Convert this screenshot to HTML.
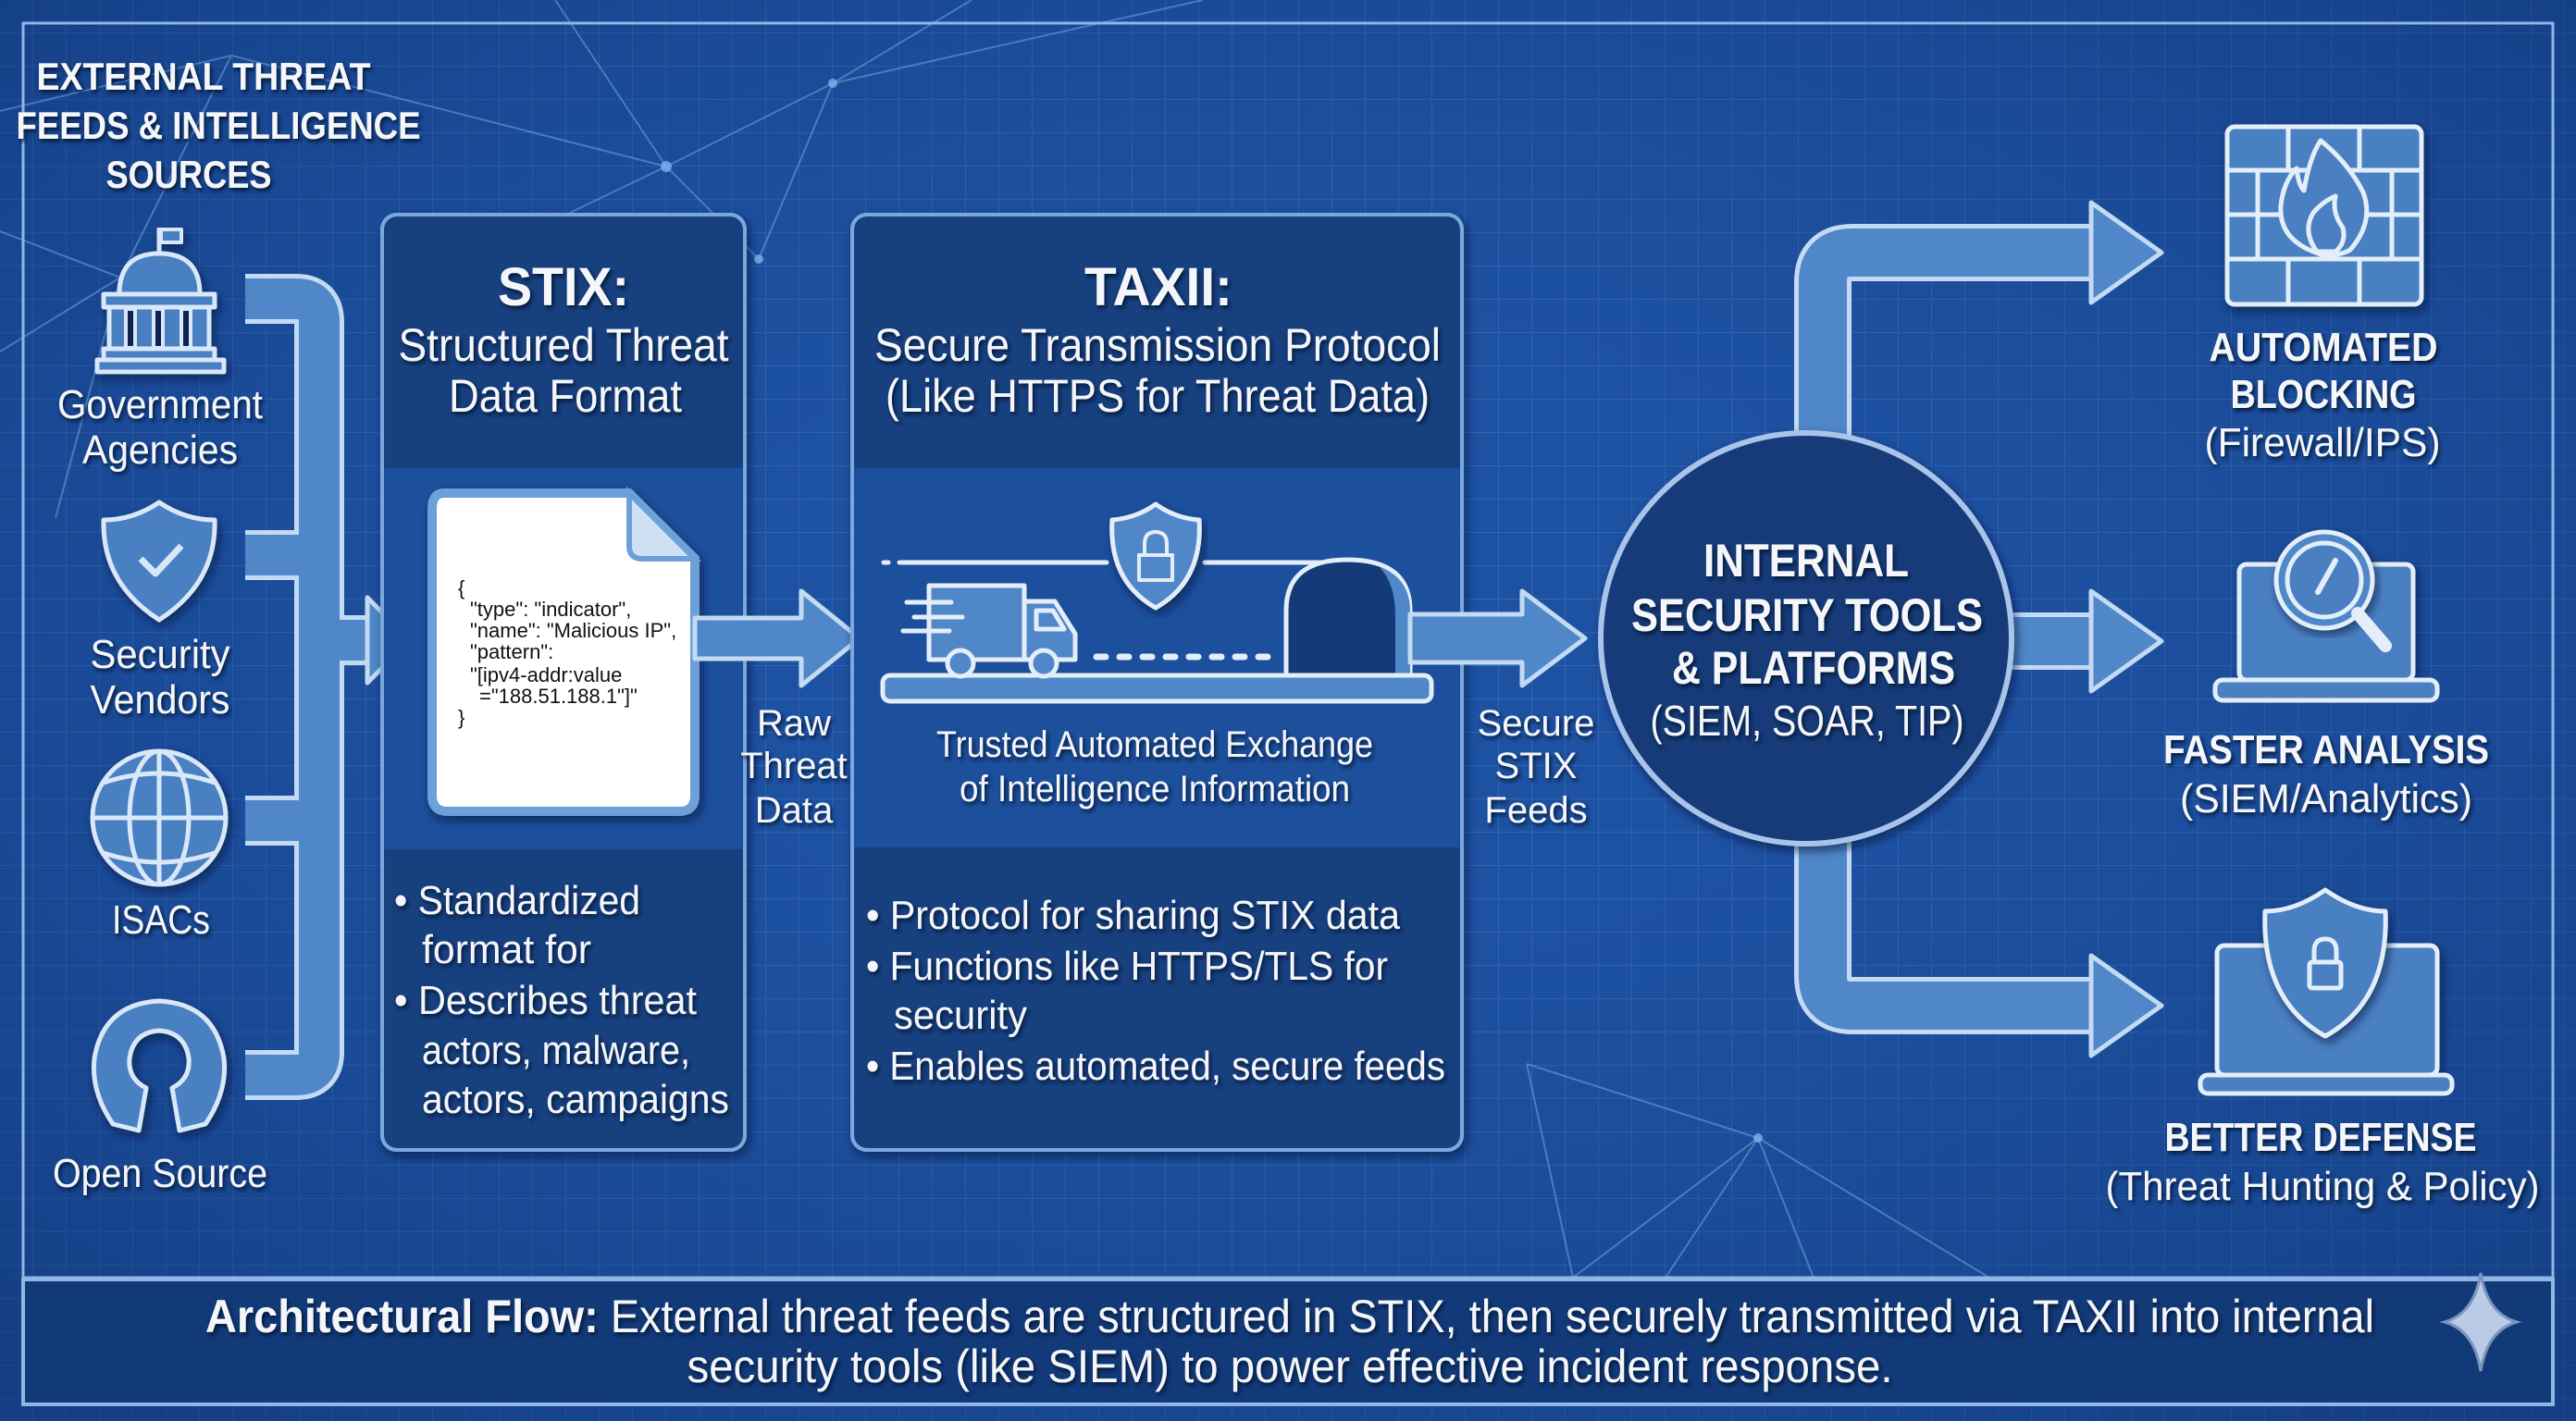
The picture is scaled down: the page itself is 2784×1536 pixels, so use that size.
<!DOCTYPE html>
<html><head><meta charset="utf-8">
<style>
html,body{margin:0;padding:0;background:#1a4c9a;}
svg{display:block;}
text{font-family:"Liberation Sans",sans-serif;fill:#f4f6fa;}
</style></head>
<body>
<svg width="2784" height="1536" viewBox="0 0 2784 1536" xmlns="http://www.w3.org/2000/svg">
<defs>
<pattern id="grid" width="36" height="36" patternUnits="userSpaceOnUse">
<path d="M36 0V36M0 36H36" stroke="#4d82cc" stroke-width="2" opacity="0.45" fill="none"/>
</pattern>
<radialGradient id="vig" cx="50%" cy="45%" r="70%">
<stop offset="0" stop-color="#2359ad" stop-opacity="0"/>
<stop offset="1" stop-color="#0d2f6c" stop-opacity="0.55"/>
</radialGradient>
<filter id="ts" x="-10%" y="-30%" width="120%" height="160%">
<feDropShadow dx="2" dy="3" stdDeviation="2" flood-color="#051230" flood-opacity="0.95"/>
</filter>
<filter id="sh" x="-10%" y="-10%" width="120%" height="120%">
<feDropShadow dx="3" dy="5" stdDeviation="5" flood-color="#061535" flood-opacity="0.6"/>
</filter>
</defs>

<rect width="2784" height="1536" fill="#1d52a3"/>
<rect width="2784" height="1536" fill="url(#grid)"/>
<rect width="2784" height="1536" fill="url(#vig)"/>

<g stroke="#6fa3e0" stroke-width="2" opacity="0.55" fill="none">
<path d="M0 120 L250 60 L720 180 L900 90 L1050 0"/>
<path d="M250 60 L130 300 L0 380"/>
<path d="M720 180 L820 280 L900 90"/>
<path d="M600 0 L720 180 L470 300"/>
<path d="M900 90 L1300 0"/>
<path d="M0 250 L130 300 L60 560"/>
<path d="M1650 1150 L1900 1230 L1800 1381"/>
<path d="M1900 1230 L2150 1381 M1700 1381 L1900 1230 L1960 1381"/>
<path d="M1650 1150 L1700 1381"/>
</g>
<g fill="#7fb2ec" opacity="0.8">
<circle cx="720" cy="180" r="6"/><circle cx="900" cy="90" r="5"/><circle cx="820" cy="280" r="5"/>
<circle cx="1900" cy="1230" r="5"/>
</g>

<rect x="25" y="25" width="2734" height="1356" fill="none" stroke="#8fb6e6" stroke-width="3"/>

<rect x="25" y="1383" width="2734" height="135" fill="#123a78" stroke="#8fb6e6" stroke-width="4"/>
<text x="1394" y="1440" font-size="50" text-anchor="middle" textLength="2344" lengthAdjust="spacingAndGlyphs" filter="url(#ts)"><tspan font-weight="bold">Architectural Flow:</tspan> External threat feeds are structured in STIX, then securely transmitted via TAXII into internal</text>
<text x="1394" y="1494" font-size="50" text-anchor="middle" textLength="1303" lengthAdjust="spacingAndGlyphs" filter="url(#ts)">security tools (like SIEM) to power effective incident response.</text>
<path d="M2681 1376 Q2688 1420 2720 1429 Q2688 1438 2681 1482 Q2674 1438 2642 1429 Q2674 1420 2681 1376Z" fill="#b9cbe6" stroke="#7d95bb" stroke-width="3"/>

<g font-weight="bold" font-size="42" text-anchor="middle" filter="url(#ts)">
<text x="220" y="97" textLength="361" lengthAdjust="spacingAndGlyphs">EXTERNAL THREAT</text>
<text x="236" y="150" textLength="437" lengthAdjust="spacingAndGlyphs">FEEDS &amp; INTELLIGENCE</text>
<text x="204" y="203" textLength="179" lengthAdjust="spacingAndGlyphs">SOURCES</text>
</g>

<g fill="none" stroke-linejoin="round">
<path d="M265 323 H320 Q345 323 345 348 V1137 Q345 1162 320 1162 H265 M265 600 H345 M265 887 H345 M345 692 H405" stroke="#c3daf3" stroke-width="54"/>
<path d="M265 323 H320 Q345 323 345 348 V1137 Q345 1162 320 1162 H265 M265 600 H345 M265 887 H345 M345 692 H405" stroke="#4f87c8" stroke-width="44"/>
</g>
<polygon points="397,646 443,692 397,738" fill="#4f87c8" stroke="#c3daf3" stroke-width="5" stroke-linejoin="round"/>

<g stroke="#d9e8f8" stroke-width="5" fill="#4a80c2" stroke-linejoin="round" filter="url(#sh)">
<!-- government -->
<line x1="172" y1="246" x2="172" y2="274"/>
<rect x="174" y="248" width="22" height="14" fill="#4a80c2" stroke-width="4"/>
<path d="M129 318 Q129 274 172 274 Q216 274 216 318 Z"/>
<rect x="112" y="318" width="120" height="14"/>
<rect x="118" y="332" width="108" height="45" fill="#4a80c2"/>
<rect x="136" y="334" width="10" height="42" fill="#0c2450" stroke-width="4"/>
<rect x="166" y="334" width="10" height="42" fill="#0c2450" stroke-width="4"/>
<rect x="196" y="334" width="10" height="42" fill="#0c2450" stroke-width="4"/>
<rect x="112" y="377" width="120" height="12"/>
<rect x="105" y="389" width="137" height="13"/>
<!-- shield -->
<path d="M172 543 Q200 562 232 562 Q234 630 172 670 Q110 630 112 562 Q144 562 172 543Z"/>
<path d="M152 604 L168 620 L196 590" fill="none" stroke-width="7"/>
<!-- globe -->
<circle cx="172" cy="884" r="72"/>
<ellipse cx="172" cy="884" rx="32" ry="72" fill="none"/>
<line x1="172" y1="812" x2="172" y2="956"/>
<line x1="100" y1="884" x2="244" y2="884"/>
<path d="M112 846 Q172 826 232 846 M112 922 Q172 942 232 922" fill="none"/>
<!-- open source -->
<path d="M150 1222 L122 1215 Q98 1180 102 1144 Q112 1085 172 1082 Q232 1085 242 1144 Q246 1180 222 1215 L194 1222 L186 1176 Q206 1166 204 1144 Q200 1116 172 1114 Q144 1116 140 1144 Q138 1166 158 1176 Z"/>
</g>
<g font-size="44" text-anchor="middle" filter="url(#ts)">
<text x="173" y="452" textLength="222" lengthAdjust="spacingAndGlyphs">Government</text>
<text x="173" y="501" textLength="168" lengthAdjust="spacingAndGlyphs">Agencies</text>
<text x="173" y="722" textLength="151" lengthAdjust="spacingAndGlyphs">Security</text>
<text x="173" y="771" textLength="151" lengthAdjust="spacingAndGlyphs">Vendors</text>
<text x="174" y="1009" textLength="106" lengthAdjust="spacingAndGlyphs">ISACs</text>
<text x="173" y="1283" textLength="232" lengthAdjust="spacingAndGlyphs">Open Source</text>
</g>

<g filter="url(#sh)">
<rect x="413" y="232" width="392" height="1011" rx="16" fill="#1e4f9c" stroke="#7aa7dc" stroke-width="4"/>
</g>
<path d="M415 506 V250 Q415 234 431 234 H787 Q803 234 803 250 V506 Z" fill="#17407f"/>
<path d="M415 918 H803 V1225 Q803 1241 787 1241 H431 Q415 1241 415 1225 Z" fill="#17407f"/>
<rect x="413" y="232" width="392" height="1011" rx="16" fill="none" stroke="#7aa7dc" stroke-width="4"/>
<text x="609" y="330" font-size="58" font-weight="bold" text-anchor="middle" textLength="142" lengthAdjust="spacingAndGlyphs" filter="url(#ts)">STIX:</text>
<text x="609" y="390" font-size="50" text-anchor="middle" textLength="357" lengthAdjust="spacingAndGlyphs" filter="url(#ts)">Structured Threat</text>
<text x="611" y="445" font-size="50" text-anchor="middle" textLength="252" lengthAdjust="spacingAndGlyphs" filter="url(#ts)">Data Format</text>
<g filter="url(#sh)">
<path d="M480 533 H680 L751 604 V860 Q751 877 734 877 H484 Q467 877 467 860 V550 Q467 533 480 533Z" fill="#ffffff" stroke="#6d9fd8" stroke-width="10"/>
<path d="M680 533 V590 Q680 604 694 604 H751 Z" fill="#cfe0f5" stroke="#6d9fd8" stroke-width="6"/>
</g>
<g font-size="22">
<text x="495" y="643" style="fill:#111">{</text>
<text x="508" y="666" style="fill:#111">"type": "indicator",</text>
<text x="508" y="689" style="fill:#111">"name": "Malicious IP",</text>
<text x="508" y="712" style="fill:#111">"pattern":</text>
<text x="508" y="737" style="fill:#111">"[ipv4-addr:value</text>
<text x="518" y="760" style="fill:#111">="188.51.188.1"]"</text>
<text x="495" y="783" style="fill:#111">}</text>
</g>
<g font-size="44" filter="url(#ts)">
<text x="426" y="988" textLength="266" lengthAdjust="spacingAndGlyphs">• Standardized</text>
<text x="456" y="1041" textLength="183" lengthAdjust="spacingAndGlyphs">format for</text>
<text x="426" y="1096" textLength="327" lengthAdjust="spacingAndGlyphs">• Describes threat</text>
<text x="456" y="1150" textLength="290" lengthAdjust="spacingAndGlyphs">actors, malware,</text>
<text x="456" y="1203" textLength="332" lengthAdjust="spacingAndGlyphs">actors, campaigns</text>
</g>

<path d="M751 668 H866 V639 L929 690 L866 741 V712 H751 Z" fill="#4f87c8" stroke="#c3daf3" stroke-width="5" stroke-linejoin="round"/>
<g font-size="40" text-anchor="middle" filter="url(#ts)">
<text x="858" y="795">Raw</text>
<text x="858" y="841">Threat</text>
<text x="858" y="889">Data</text>
</g>

<g filter="url(#sh)">
<rect x="921" y="232" width="659" height="1011" rx="16" fill="#1e4f9c" stroke="#7aa7dc" stroke-width="4"/>
</g>
<path d="M923 506 V250 Q923 234 939 234 H1562 Q1578 234 1578 250 V506 Z" fill="#17407f"/>
<path d="M923 916 H1578 V1225 Q1578 1241 1562 1241 H939 Q923 1241 923 1225 Z" fill="#17407f"/>
<rect x="921" y="232" width="659" height="1011" rx="16" fill="none" stroke="#7aa7dc" stroke-width="4"/>
<text x="1252" y="330" font-size="58" font-weight="bold" text-anchor="middle" textLength="160" lengthAdjust="spacingAndGlyphs" filter="url(#ts)">TAXII:</text>
<text x="1251" y="390" font-size="50" text-anchor="middle" textLength="612" lengthAdjust="spacingAndGlyphs" filter="url(#ts)">Secure Transmission Protocol</text>
<text x="1251" y="445" font-size="50" text-anchor="middle" textLength="588" lengthAdjust="spacingAndGlyphs" filter="url(#ts)">(Like HTTPS for Threat Data)</text>

<g stroke="#e3eefa" stroke-width="5" fill="#4f87c8" stroke-linejoin="round" stroke-linecap="round">
<line x1="955" y1="608" x2="960" y2="608"/>
<line x1="972" y1="608" x2="1196" y2="608" fill="none"/>
<line x1="1302" y1="608" x2="1430" y2="608" fill="none"/>
<path d="M1390 730 V660 Q1390 605 1456 605 Q1524 605 1524 660 V730 Z" fill="#153a78"/>
<path d="M1490 612 Q1508 630 1508 665 V730 H1524 V660 Q1524 625 1490 612Z" fill="#4f87c8" stroke="none"/>
<rect x="954" y="730" width="593" height="28" rx="8"/>
<path d="M1004 633 H1107 V713 H1004 Z"/>
<path d="M1107 650 H1140 L1162 685 V713 H1107 Z"/>
<path d="M1120 660 H1138 L1150 680 H1120 Z" fill="#4f87c8"/>
<circle cx="1038" cy="717" r="14"/><circle cx="1128" cy="717" r="14"/>
<line x1="980" y1="651" x2="1028" y2="651"/><line x1="988" y1="667" x2="1040" y2="667"/><line x1="976" y1="682" x2="1026" y2="682"/>
<g stroke-width="7" stroke-dasharray="10 15"><line x1="1185" y1="710" x2="1372" y2="710"/></g>
<path d="M1249 545 Q1270 560 1296 562 Q1300 628 1249 657 Q1198 628 1202 562 Q1228 560 1249 545Z" filter="url(#sh)"/>
<path d="M1237 600 V588 Q1237 575 1249 575 Q1261 575 1261 588 V600" fill="none" stroke-width="4"/>
<rect x="1231" y="600" width="36" height="27" stroke-width="4"/>
</g>
<g font-size="40" text-anchor="middle" filter="url(#ts)">
<text x="1248" y="818" textLength="472" lengthAdjust="spacingAndGlyphs">Trusted Automated Exchange</text>
<text x="1248" y="866" textLength="422" lengthAdjust="spacingAndGlyphs">of Intelligence Information</text>
</g>
<g font-size="44" filter="url(#ts)">
<text x="936" y="1004" textLength="577" lengthAdjust="spacingAndGlyphs">• Protocol for sharing STIX data</text>
<text x="936" y="1059" textLength="564" lengthAdjust="spacingAndGlyphs">• Functions like HTTPS/TLS for</text>
<text x="966" y="1112" textLength="144" lengthAdjust="spacingAndGlyphs">security</text>
<text x="936" y="1167" textLength="626" lengthAdjust="spacingAndGlyphs">• Enables automated, secure feeds</text>
</g>

<path d="M1524 664 H1645 V639 L1713 690 L1645 741 V716 H1524 Z" fill="#4f87c8" stroke="#c3daf3" stroke-width="5" stroke-linejoin="round"/>
<g font-size="40" text-anchor="middle" filter="url(#ts)">
<text x="1660" y="795">Secure</text>
<text x="1660" y="841">STIX</text>
<text x="1660" y="889">Feeds</text>
</g>

<g fill="none" stroke-linejoin="round">
<path d="M1970 500 V305 Q1970 273 2002 273 H2268 M2170 693 H2268 M1970 880 V1055 Q1970 1087 2002 1087 H2268" stroke="#c3daf3" stroke-width="62"/>
<path d="M1970 500 V305 Q1970 273 2002 273 H2268 M2170 693 H2268 M1970 880 V1055 Q1970 1087 2002 1087 H2268" stroke="#4f87c8" stroke-width="52"/>
</g>
<g fill="#4f87c8" stroke="#c3daf3" stroke-width="5" stroke-linejoin="round">
<polygon points="2260,219 2336,273 2260,327"/>
<polygon points="2260,639 2336,693 2260,747"/>
<polygon points="2260,1033 2336,1087 2260,1141"/>
</g>

<g filter="url(#sh)">
<circle cx="1952" cy="690" r="222" fill="#153a78" stroke="#a9c4ea" stroke-width="6"/>
</g>
<g text-anchor="middle" filter="url(#ts)">
<text x="1952" y="623" font-size="50" font-weight="bold" textLength="222" lengthAdjust="spacingAndGlyphs">INTERNAL</text>
<text x="1953" y="682" font-size="50" font-weight="bold" textLength="380" lengthAdjust="spacingAndGlyphs">SECURITY TOOLS</text>
<text x="1960" y="739" font-size="50" font-weight="bold" textLength="306" lengthAdjust="spacingAndGlyphs">&amp; PLATFORMS</text>
<text x="1953" y="795" font-size="46" textLength="339" lengthAdjust="spacingAndGlyphs">(SIEM, SOAR, TIP)</text>
</g>

<g stroke="#e3eefa" stroke-width="5" fill="#4a80c2" stroke-linejoin="round" stroke-linecap="round">
<rect x="2407" y="137" width="210" height="192" rx="8" filter="url(#sh)"/>
<path d="M2407 184 H2617 M2407 232 H2617 M2407 280 H2617 M2473 137 V184 M2550 137 V184 M2473 280 V329 M2550 280 V329 M2440 184 V232 M2585 184 V232 M2440 232 V280 M2585 232 V280" fill="none"/>
<path d="M2512 276 Q2462 262 2465 222 Q2468 196 2482 182 Q2484 200 2490 206 Q2496 170 2508 152 Q2538 176 2554 208 Q2566 240 2540 270 Q2530 276 2512 276Z" fill="#4a80c2"/>
<path d="M2504 272 Q2488 250 2500 230 Q2510 218 2524 212 Q2520 230 2532 246 Q2536 262 2524 272Z" fill="#4a80c2"/>
<rect x="2420" y="610" width="188" height="125" rx="8" filter="url(#sh)"/>
<rect x="2394" y="735" width="240" height="22" rx="8"/>
<circle cx="2512" cy="627" r="52" fill="#4f87c8" filter="url(#sh)"/>
<circle cx="2512" cy="627" r="40" fill="#4a80c2"/>
<path d="M2505 640 L2524 606" stroke-width="6"/>
<path d="M2548 663 L2578 698" stroke-width="14"/>
<rect x="2396" y="1022" width="238" height="140" rx="8" filter="url(#sh)"/>
<rect x="2378" y="1162" width="272" height="20" rx="8"/>
<path d="M2513 962 Q2546 985 2578 985 Q2582 1082 2513 1120 Q2444 1082 2448 985 Q2480 985 2513 962Z" filter="url(#sh)"/>
<path d="M2501 1040 V1028 Q2501 1015 2513 1015 Q2525 1015 2525 1028 V1040" fill="none"/>
<rect x="2496" y="1040" width="34" height="28" rx="3"/>
</g>
<g text-anchor="middle" filter="url(#ts)">
<text x="2511" y="390" font-size="44" font-weight="bold" textLength="247" lengthAdjust="spacingAndGlyphs">AUTOMATED</text>
<text x="2511" y="441" font-size="44" font-weight="bold" textLength="201" lengthAdjust="spacingAndGlyphs">BLOCKING</text>
<text x="2510" y="493" font-size="44" textLength="255" lengthAdjust="spacingAndGlyphs">(Firewall/IPS)</text>
<text x="2514" y="825" font-size="44" font-weight="bold" textLength="352" lengthAdjust="spacingAndGlyphs">FASTER ANALYSIS</text>
<text x="2514" y="878" font-size="44" textLength="316" lengthAdjust="spacingAndGlyphs">(SIEM/Analytics)</text>
<text x="2508" y="1244" font-size="44" font-weight="bold" textLength="337" lengthAdjust="spacingAndGlyphs">BETTER DEFENSE</text>
<text x="2510" y="1297" font-size="44" textLength="469" lengthAdjust="spacingAndGlyphs">(Threat Hunting &amp; Policy)</text>
</g>
</svg>
</body></html>
